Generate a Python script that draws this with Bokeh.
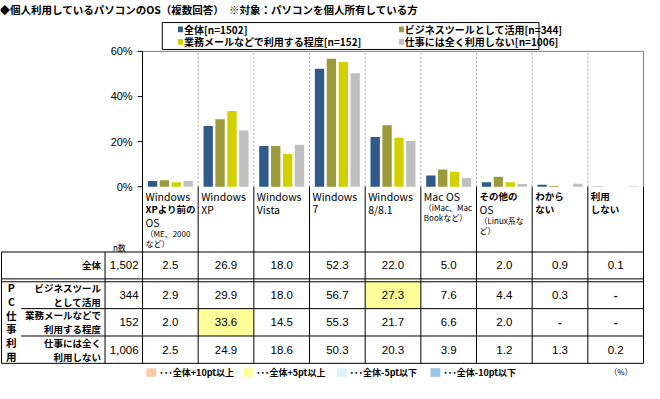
from bokeh.plotting import figure
from bokeh.models import Range1d
from bokeh.core.properties import value
from bokeh.embed import file_html
from bokeh.resources import INLINE

# ---------------- data ----------------
title_text = "◆個人利用しているパソコンのOS（複数回答）　※対象：パソコンを個人所有している方"
cat_main = [["Windows", "XPより前の", "OS"], ["Windows", "XP"], ["Windows", "Vista"],
            ["Windows", "7"], ["Windows", "8/8.1"], ["Mac OS"], ["その他の", "OS"],
            ["わから", "ない"], ["利用", "しない"]]
cat_note = [["（ME、2000", "など）"], [], [], [], [], ["（iMac、Mac", "Bookなど）"],
            ["（Linux系な", "ど）"], [], []]
series_names = ["全体[n=1502]", "ビジネスツールとして活用[n=344]",
                "業務メールなどで利用する程度[n=152]", "仕事には全く利用しない[n=1006]"]
row_labels = [["全体"], ["ビジネスツール", "として活用"], ["業務メールなどで", "利用する程度"],
              ["仕事には全く", "利用しない"]]
group_label = ["P", "C", "仕", "事", "利", "用"]
n_values = ["1,502", "344", "152", "1,006"]
v_all = [2.5, 26.9, 18.0, 52.3, 22.0, 5.0, 2.0, 0.9, 0.1]
v_biz = [2.9, 29.9, 18.0, 56.7, 27.3, 7.6, 4.4, 0.3, None]
v_mail = [2.0, 33.6, 14.5, 55.3, 21.7, 6.6, 2.0, None, None]
v_none = [2.5, 24.9, 18.6, 50.3, 20.3, 3.9, 1.2, 1.3, 0.2]
series_values = [v_all, v_biz, v_mail, v_none]
y_ticks = [0, 20, 40, 60]
key_labels = ["･･･全体+10pt以上", "･･･全体+5pt以上", "･･･全体-5pt以下", "･･･全体-10pt以下"]
key_colors = ["#F8CBAD", "#FFFF99", "#DDF3FB", "#9DC3E6"]
bar_colors = ["#2F5A8A", "#9C9A3A", "#D2D000", "#BFBFBF"]

# ---------------- layout (reference pixel coordinates) ----------------
W, H = 644, 383
PX_X0, PX_X1 = 4, 657
PX_YT, PX_YB = 4, 403
X_AX, X_R = 148, 656
Y0, Y60 = 198, 57
NC = len(cat_main)
ux = NC / (X_R - X_AX)
uy = 60 / (Y0 - Y60)

JP = value("Noto Sans CJK JP")
LAT = value("Liberation Sans")

p = figure(width=W, height=H, output_backend="svg", toolbar_location=None,
           x_axis_type=None, y_axis_type=None,
           x_range=Range1d((PX_X0 - X_AX) * ux, (PX_X1 - X_AX) * ux),
           y_range=Range1d((Y0 - PX_YB) * uy, (Y0 - PX_YT) * uy),
           min_border=0, min_border_left=0, min_border_right=0,
           min_border_top=0, min_border_bottom=0)
p.extra_x_ranges = {"px": Range1d(PX_X0, PX_X1)}
p.extra_y_ranges = {"px": Range1d(PX_YB, PX_YT)}
p.grid.visible = False
p.outline_line_color = None
p.background_fill_color = "white"
p.border_fill_color = "white"

PX = dict(x_range_name="px", y_range_name="px")
PY = dict(y_range_name="px")

def txt(x, y, s, size, align="left", font=JP, style="normal", color="#000000", rn=PX):
    p.text(x=[x], y=[y], text=[s], text_font=font, text_font_size=f"{size}px",
           text_align=align, text_baseline="middle", text_font_style=style,
           text_color=color, **rn)

# title
txt(3, 13, title_text, 10.5, style="bold")

# top legend
p.quad(left=[168], right=[550], top=[27], bottom=[55], fill_color="white",
       line_color="#000000", line_width=1, **PX)
leg_pos = [(184, 34), (408, 34), (184, 47), (408, 47)]
for (lx, ly), nm, c in zip(leg_pos, series_names, bar_colors):
    p.quad(left=[lx], right=[lx + 5], top=[ly - 3], bottom=[ly + 3], fill_color=c,
           line_color=None, **PX)
    txt(lx + 6, ly, nm, 10, style="bold")

# plot frame / grid
for i in range(1, NC):
    p.segment(x0=[i], y0=[0], x1=[i], y1=[60], line_color="#A6A6A6", line_dash="2 2",
              line_width=1)
p.segment(x0=[0], y0=[60], x1=[NC], y1=[60], line_color="#7F7F7F", line_width=1)
p.segment(x0=[NC], y0=[0], x1=[NC], y1=[60], line_color="#7F7F7F", line_width=1)
p.segment(x0=[0], y0=[0], x1=[0], y1=[60], line_color="#000000", line_width=1)
for t in y_ticks:
    p.segment(x0=[-5 * ux], y0=[t], x1=[0], y1=[t], line_color="#000000", line_width=1)
    p.text(x=[-10 * ux], y=[t], text=[f"{t}%"], text_font=LAT, text_font_size="11px",
           text_align="right", text_baseline="middle")

# bars
offsets = [-0.32, -0.107, 0.107, 0.32]
for k, vals in enumerate(series_values):
    xs = [i + 0.5 + offsets[k] for i in range(NC)]
    tops = [v if v is not None else 0 for v in vals]
    p.vbar(x=xs, top=tops, bottom=0, width=0.168, fill_color=bar_colors[k],
           line_color=None)

# table geometry
T_TOP = 266
row_bounds = [(266, 294), (297, 325), (325, 353.5), (353.5, 382)]
X_LEFT, X_LAB, X_GRP = 5, 110, 25

# highlighted cells
for r in range(1, 4):
    for i in range(NC):
        v = series_values[r][i]
        if v is None:
            continue
        d = v - v_all[i]
        col = None
        if d >= 10:
            col = key_colors[0]
        elif d >= 5:
            col = key_colors[1]
        elif d <= -10:
            col = key_colors[3]
        elif d <= -5:
            col = key_colors[2]
        if col:
            t, b = row_bounds[r]
            p.quad(left=[i], right=[i + 1], top=[t], bottom=[b], fill_color=col,
                   line_color=None, **PY)

# table lines
LC = "#000000"
for i in range(NC + 1):
    p.segment(x0=[i], y0=[Y0], x1=[i], y1=[382], line_color=LC, line_width=1, **PY)
p.segment(x0=[X_LEFT], y0=[T_TOP], x1=[X_R], y1=[T_TOP], line_color=LC, **PX)
p.segment(x0=[X_LEFT], y0=[294], x1=[X_R], y1=[294], line_color=LC, **PX)
p.segment(x0=[X_LEFT], y0=[297], x1=[X_R], y1=[297], line_color=LC, **PX)
p.segment(x0=[X_GRP], y0=[325], x1=[X_R], y1=[325], line_color=LC, **PX)
p.segment(x0=[X_GRP], y0=[353.5], x1=[X_R], y1=[353.5], line_color=LC, **PX)
p.segment(x0=[X_LEFT], y0=[382], x1=[X_R], y1=[382], line_color=LC, **PX)
p.segment(x0=[X_LEFT], y0=[T_TOP], x1=[X_LEFT], y1=[382], line_color=LC, **PX)
p.segment(x0=[X_LAB], y0=[T_TOP], x1=[X_LAB], y1=[382], line_color=LC, **PX)

# category labels
for i in range(NC):
    lx = X_AX + i * (X_R - X_AX) / NC + 3
    y = 208
    for s in cat_main[i]:
        jp = any(ord(ch) > 255 for ch in s)
        txt(lx, y, s, 9.5 if jp else 10.5, style="bold" if jp else "normal", font=JP)
        y += 13.5
    if cat_note[i]:
        y -= 2
    for s in cat_note[i]:
        txt(lx, y, s, 8, font=JP)
        y += 11

txt(118, 261, "n数", 8)

# row labels, n, values
for r in range(4):
    t, b = row_bounds[r]
    cy = (t + b) / 2
    lines = row_labels[r]
    for j, s in enumerate(lines):
        yy = cy + (j - (len(lines) - 1) / 2) * 14.5
        txt(106, yy, s, 9.5, align="right", style="bold")
    txt(144, cy, n_values[r], 11.5, align="right", font=LAT)
    for i in range(NC):
        v = series_values[r][i]
        s = "-" if v is None else f"{v:.1f}"
        p.text(x=[i + 0.5], y=[cy], text=[s], text_font=LAT, text_font_size="11.5px",
               text_align="center", text_baseline="middle",
               text_font_style="bold" if v is None else "normal", **PY)

for j, s in enumerate(group_label):
    txt(15, 303 + j * 14.4, s, 10.5, align="center", style="bold")

# bottom key
key_x = [152, 250, 345, 440]
for kx, kl, kc in zip(key_x, key_labels, key_colors):
    p.quad(left=[kx], right=[kx + 10], top=[387], bottom=[396], fill_color=kc,
           line_color=None, **PX)
    txt(kx + 13, 391.5, kl, 9, style="bold")
txt(645, 390, "（%）", 8, align="right")

open("out.html", "w").write(file_html(p, INLINE))
